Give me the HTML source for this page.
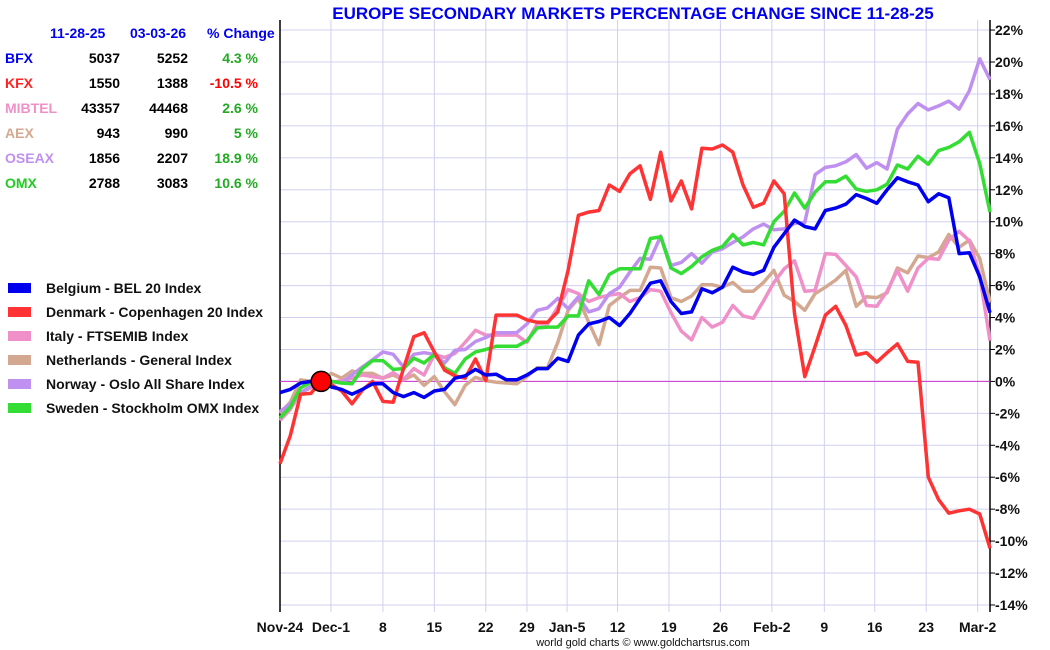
<!DOCTYPE html>
<html><head><meta charset="utf-8">
<style>
body{margin:0;background:#fff;font-family:"Liberation Sans",Arial,sans-serif;}
#wrap{position:relative;width:1050px;height:650px;overflow:hidden;}
.t{position:absolute;font-weight:bold;font-size:14px;white-space:nowrap;}
</style></head><body>
<div id="wrap">
<div class="t" style="left:50px;top:25px;color:#0000ee;">11-28-25</div>
<div class="t" style="left:130px;top:25px;color:#0000ee;">03-03-26</div>
<div class="t" style="left:207px;top:25px;color:#0000ee;">% Change</div>
<div id="tbl"></div>
<div id="leg"></div>
<svg id="svg" width="1050" height="650" style="position:absolute;left:0;top:0"></svg>
</div>
<script>
const names=["BFX","KFX","MIBTEL","AEX","OSEAX","OMX"];
const startVals=["5037","1550","43357","943","1856","2788"];
const endVals=["5252","1388","44468","990","2207","3083"];
const changes=["4.3 %","-10.5 %","2.6 %","5 %","18.9 %","10.6 %"];
const legendLabels=["Belgium - BEL 20 Index","Denmark - Copenhagen 20 Index","Italy - FTSEMIB Index","Netherlands - General Index","Norway -  Oslo All Share Index","Sweden -  Stockholm OMX Index"];
const xTicks=["Nov-24","Dec-1","8","15","22","29","Jan-5","12","19","26","Feb-2","9","16","23","Mar-2"];
const xTickIdx=[0,4.95,10,15,20,24,27.9,32.8,37.8,42.8,47.8,52.9,57.8,62.8,67.8];
const yTicks=[22,20,18,16,14,12,10,8,6,4,2,0,-2,-4,-6,-8,-10,-12,-14];
const bfx=[-0.7,-0.5,-0.1,0,0,-0.35,-0.5,-0.8,-0.5,-0.15,-0.15,-0.7,-0.95,-0.7,-1.0,-0.6,-0.5,0.2,0.35,0.75,0.4,0.45,0.1,0.1,0.4,0.8,0.8,1.45,1.25,2.9,3.6,3.75,4.0,3.5,4.25,5.2,6.15,6.3,5.0,4.25,4.35,5.8,5.55,5.9,7.15,6.85,6.7,6.95,8.4,9.25,10.1,9.7,9.55,10.7,10.85,11.1,11.7,11.45,11.15,12.0,12.75,12.5,12.3,11.25,11.75,11.5,8.0,8.05,6.55,4.3];
const kfx=[-5.15,-3.4,-0.8,-0.75,0,-0.2,-0.6,-1.4,-0.55,0,-1.25,-1.3,0.8,2.8,3.05,1.85,0.7,0.35,0.2,1.4,0.05,4.15,4.15,4.15,3.85,3.7,3.7,4.35,6.95,10.4,10.6,10.7,12.3,11.9,13.0,13.5,11.4,14.35,11.3,12.55,10.8,14.6,14.55,14.8,14.35,12.3,10.9,11.15,12.55,11.75,4.25,0.3,2.2,4.15,4.7,3.5,1.65,1.8,1.2,1.8,2.35,1.25,1.2,-6.0,-7.4,-8.25,-8.1,-8.0,-8.3,-10.45];
const mibtel=[-2.45,-1.75,-0.7,-0.4,0,-0.05,0.05,0.2,0.4,0.3,0.2,0.55,0.1,0.8,0.4,1.7,1.5,1.75,2.45,3.2,2.9,2.9,2.9,2.9,2.45,3.6,3.6,4.65,5.75,5.5,5.0,5.25,5.4,5.5,5.0,5.25,5.75,5.65,4.3,3.15,2.6,4.0,3.4,3.7,4.75,4.1,3.95,5.05,6.2,7.05,7.55,5.65,5.7,8.0,7.95,7.25,6.55,4.75,4.7,5.65,6.95,5.65,7.1,7.7,7.65,8.85,9.4,8.8,6.65,2.55];
const aex=[-2.0,-1.3,0.1,0,0,0.5,0.2,0.65,0.5,0.5,0.2,0.4,0.1,0.4,-0.25,0.3,-0.65,-1.45,-0.25,0.25,0.05,-0.05,-0.1,-0.15,0.3,0.85,0.85,2.45,4.45,5.2,3.7,2.3,4.75,5.25,5.7,5.7,7.15,7.1,5.25,5.0,5.35,6.05,6.05,5.9,6.2,5.65,5.65,6.2,6.95,5.4,5.0,4.45,5.5,5.9,6.35,6.95,4.7,5.3,5.25,5.55,7.1,6.8,7.85,7.75,8.1,9.2,8.4,8.85,7.7,4.95];
const oseax=[-1.9,-1.4,-0.7,-0.3,0,0,-0.1,0.4,0.9,1.35,1.85,1.7,0.9,1.7,1.8,1.7,1.15,1.95,2.0,2.5,2.75,3.05,3.05,3.05,3.6,4.45,4.6,5.2,4.55,5.3,4.35,4.55,5.5,5.9,6.85,7.7,7.65,9.1,7.25,7.45,8.0,7.4,8.1,8.3,8.7,9.05,9.55,9.85,9.5,9.55,9.9,9.95,12.95,13.4,13.5,13.75,14.2,13.35,13.7,13.3,15.8,16.75,17.4,17.0,17.25,17.55,17.05,18.2,20.2,18.9];
const omx=[-2.3,-1.6,-0.4,-0.05,0,0,-0.1,-0.15,0.8,1.3,1.3,0.75,0.8,1.45,1.15,1.7,0.85,0.5,1.4,1.85,2.0,2.2,2.2,2.2,2.55,3.35,3.4,3.4,4.1,4.1,6.3,5.45,6.7,7.05,7.05,7.05,8.95,9.05,7.1,6.75,7.2,7.8,8.2,8.45,9.2,8.55,8.7,8.55,10.0,10.65,11.8,10.85,11.85,12.5,12.5,12.85,12.05,11.9,12.0,12.35,13.55,13.3,14.1,13.6,14.45,14.65,15.0,15.6,13.65,10.6];

const colors=["#0000ee","#ff3333","#f090c8","#d4a890","#c090f0","#33dd33"];
const nameColors=["#0000ee","#ff2222","#f090c8","#d4a890","#c090f0","#22cc22"];
const X0=280,X1=990,N=70;
const xs=i=>X0+i*(X1-X0)/(N-1);
const ys=v=>381.4-v*15.97;
const NS="http://www.w3.org/2000/svg";
const svg=document.getElementById('svg');
function mk(tag,attrs,parent){const e=document.createElementNS(NS,tag);for(const k in attrs)e.setAttribute(k,attrs[k]);(parent||svg).appendChild(e);return e;}

// table
const tbl=document.getElementById('tbl');
names.forEach((n,r)=>{
  const y=50+r*25;
  const a=document.createElement('div');a.className='t';a.style.cssText=`left:5px;top:${y}px;color:${nameColors[r]}`;a.textContent=n;
  
  
  tbl.appendChild(a);
  const b=document.createElement('div');b.className='t';b.style.cssText=`right:${1050-120}px;top:${y}px;color:#000`;b.textContent=startVals[r];
  
  
  tbl.appendChild(b);
  const c=document.createElement('div');c.className='t';c.style.cssText=`right:${1050-188}px;top:${y}px;color:#000`;c.textContent=endVals[r];
  
  
  tbl.appendChild(c);
  const d=document.createElement('div');d.className='t';d.style.cssText=`right:${1050-258}px;top:${y}px;color:${changes[r].startsWith('-')?'#ff0000':'#22aa22'}`;d.textContent=changes[r];
  
  
  tbl.appendChild(d);
});
// legend
const leg=document.getElementById('leg');
legendLabels.forEach((l,r)=>{
  const y=280+r*24;
  const s=document.createElement('div');s.style.cssText=`position:absolute;left:8px;top:${y+3}px;width:23px;height:10px;background:${colors[r]}`;
  
  
  leg.appendChild(s);
  const t=document.createElement('div');t.className='t';t.style.cssText=`left:46px;top:${y}px;color:#111`;t.textContent=l;
  
  
  leg.appendChild(t);
});

// title
const title=mk('text',{x:633,y:19,'text-anchor':'middle','font-size':'17','font-weight':'bold',fill:'#0000ee','font-family':'Liberation Sans, Arial, sans-serif'});
title.textContent="EUROPE SECONDARY MARKETS PERCENTAGE CHANGE SINCE 11-28-25";



// grid
yTicks.forEach(v=>{
  const g=mk('line',{x1:X0,x2:X1,y1:ys(v),y2:ys(v),stroke:'#d0d0f0','stroke-width':1});
  
  
  const tk=mk('line',{x1:X1,x2:X1+5,y1:ys(v),y2:ys(v),stroke:'#000','stroke-width':1});
  
  
  const t=mk('text',{x:995,y:ys(v)+5,'font-size':'14','font-weight':'bold',fill:'#111','font-family':'Liberation Sans, Arial, sans-serif'});
  t.textContent=v+'%';
  
  
});
xTicks.forEach((l,k)=>{
  const x=xs(xTickIdx[k]);
  if(k>0){const g=mk('line',{x1:x,x2:x,y1:ys(22)-10,y2:612,stroke:'#d0d0f0','stroke-width':1});
  
  }
  const t=mk('text',{x:x,y:632,'text-anchor':'middle','font-size':'14','font-weight':'bold',fill:'#111','font-family':'Liberation Sans, Arial, sans-serif'});
  t.textContent=l;
  
  
});
const la=mk('line',{x1:X0,x2:X0,y1:ys(22)-10,y2:612,stroke:'#000','stroke-width':1.5});


const ra=mk('line',{x1:X1,x2:X1,y1:20,y2:612,stroke:'#000','stroke-width':1.5});


const zl=mk('line',{x1:X0,x2:X1,y1:ys(0),y2:ys(0),stroke:'#cc33cc','stroke-width':1});



const series=[[aex,3,'aex-line'],[mibtel,2,'mibtel-line'],[oseax,4,'oseax-line'],[omx,5,'omx-line'],[kfx,1,'kfx-line'],[bfx,0,'bfx-line']];
series.forEach(([d,c,nm])=>{
  const p=mk('polyline',{points:d.map((v,i)=>xs(i).toFixed(1)+','+ys(v).toFixed(1)).join(' '),fill:'none',stroke:colors[c],'stroke-width':3.5,'stroke-linejoin':'round'});
  
  
});
const dot=mk('circle',{cx:xs(4),cy:ys(0),r:10,fill:'#ff0000',stroke:'#000','stroke-width':1.5});


const ft=mk('text',{x:643,y:646,'text-anchor':'middle','font-size':'11',fill:'#111','font-family':'Liberation Sans, Arial, sans-serif'});
ft.textContent="world gold charts © www.goldchartsrus.com";


</script>
</body></html>
